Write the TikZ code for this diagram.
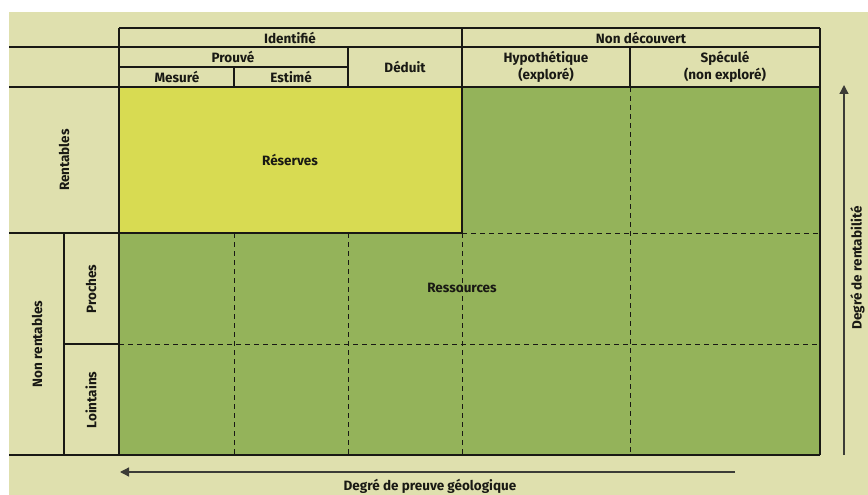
\documentclass[tikz,border=0pt]{standalone}
\usepackage{fontspec}
\setmainfont{Fira Sans}
\usetikzlibrary{arrows.meta}
\definecolor{bgc}{RGB}{223,224,174}
\definecolor{yel}{RGB}{216,219,82}
\definecolor{grn}{RGB}{148,179,90}
\definecolor{ink}{RGB}{25,25,20}
\begin{document}
\begin{tikzpicture}[x=1pt,y=-1pt,
  lbl/.style={font=\bfseries\fontsize{13.5}{16.5}\selectfont, inner sep=0pt, align=center, text=ink},
  rlbl/.style={lbl, rotate=90},
  rule/.style={draw=ink, line width=1.1pt},
  dline/.style={draw=ink, line width=1pt, dash pattern=on 5pt off 4pt},
  axis/.style={draw=ink!85, line width=1.3pt, -{Triangle[length=9pt,width=9pt]}}]
\useasboundingbox (0,0) rectangle (868,495);
% backgrounds
\fill[white] (0,0) rectangle (868,495);
\fill[bgc] (9,12) rectangle (868,495);
\fill[grn] (119,87) rectangle (820,455);
\fill[yel] (119,87) rectangle (462,233);
% dashed grid lines
\draw[dline] (234,233) -- (234,455);
\draw[dline] (348,233) -- (348,455);
\draw[dline] (462,233) -- (462,455);
\draw[dline] (630,87) -- (630,455);
\draw[dline] (462,233) -- (820,233);
\draw[dline] (119,344) -- (820,344);
% solid rules
\draw[rule] (119,28) -- (820,28);
\draw[rule] (9,47) -- (820,47);
\draw[rule] (119,67) -- (348,67);
\draw[rule] (9,87) -- (820,87);
\draw[rule] (9,233) -- (462,233);
\draw[rule] (64,344) -- (119,344);
\draw[rule] (9,455) -- (820,455);
\draw[rule] (119,28) -- (119,455);
\draw[rule] (234,67) -- (234,87);
\draw[rule] (348,47) -- (348,87);
\draw[rule] (462,28) -- (462,233);
\draw[rule] (630,47) -- (630,87);
\draw[rule] (820,28) -- (820,455);
\draw[rule] (64,233) -- (64,455);
% header labels
\node[lbl] (identifie) at (290,37.5) {Identifié};
\node[lbl] (nondec) at (641,37.5) {Non découvert};
\node[lbl] (prouve) at (233,57) {Prouvé};
\node[lbl] (mesure) at (177,77) {Mesuré};
\node[lbl] (estime) at (291,77) {Estimé};
\node[lbl] (deduit) at (405,67) {Déduit};
\node[lbl] (hypo) at (546,67) {Hypothétique\\(exploré)};
\node[lbl] (specule) at (725,67) {Spéculé\\(non exploré)};
% row labels
\node[rlbl] (rentables) at (64,160) {Rentables};
\node[rlbl] (nonrent) at (37,344) {Non rentables};
\node[rlbl] (proches) at (91,289) {Proches};
\node[rlbl] (lointains) at (91,400) {Lointains};
% area labels
\node[lbl] (reserves) at (290,160) {Réserves};
\node[lbl] (ressources) at (462,288) {Ressources};
% axes
\coordinate (vbot) at (844,455);
\coordinate (vtop) at (844,85);
\coordinate (hright) at (735,472);
\coordinate (hleft) at (120,472);
\draw[axis] (vbot) -- (vtop);
\draw[axis] (hright) -- (hleft);
\node[rlbl] (rentab) at (857.5,268) {Degré de rentabilité};
\node[lbl] (preuve) at (430,486.5) {Degré de preuve géologique};
\end{tikzpicture}
\end{document}
